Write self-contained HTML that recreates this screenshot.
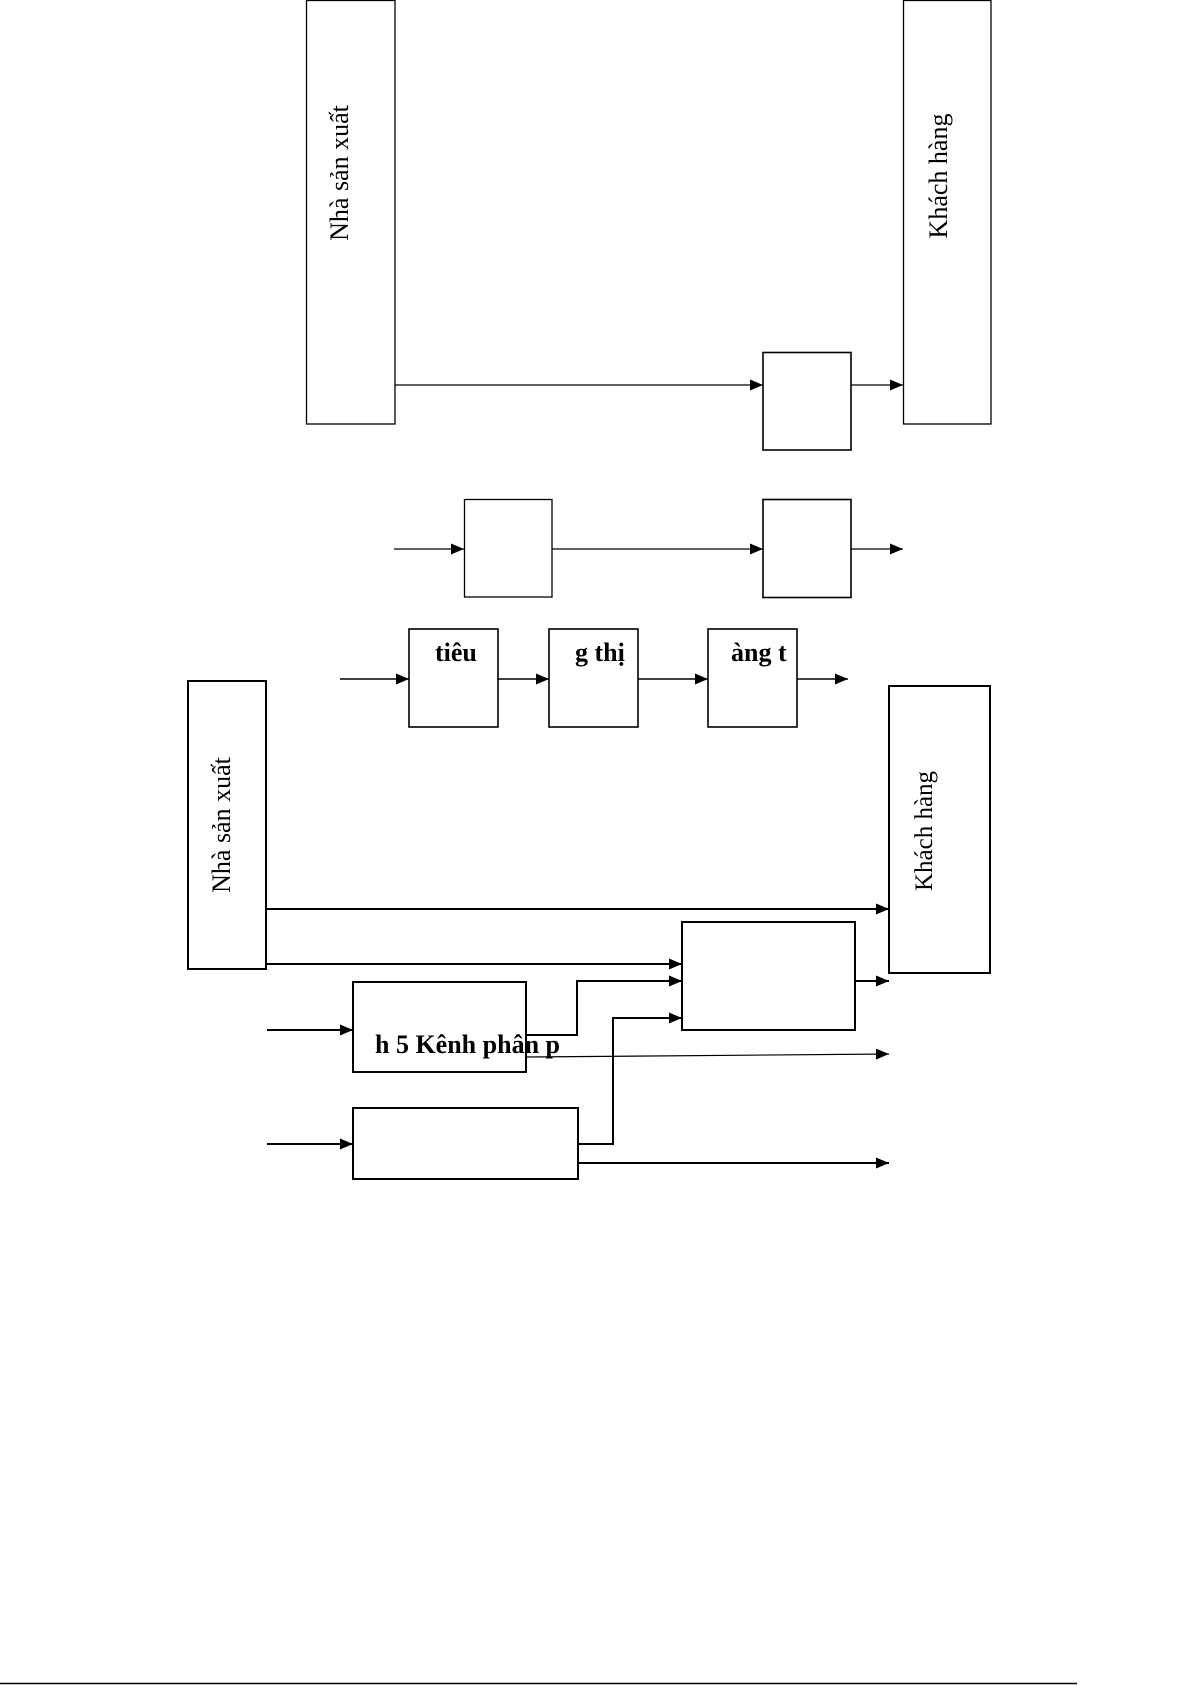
<!DOCTYPE html>
<html>
<head>
<meta charset="utf-8">
<style>
  html, body { margin: 0; padding: 0; background: #fff; }
  body { width: 1192px; height: 1685px; overflow: hidden; }
  svg { display: block; }
  text { font-family: "Liberation Serif", "Times New Roman", serif; fill: #000; }
  .b { font-weight: bold; }
</style>
</head>
<body>
<svg width="1192" height="1685" viewBox="0 0 1192 1685" xmlns="http://www.w3.org/2000/svg">
  <defs>
    <marker id="ah" markerWidth="13" markerHeight="11" refX="13" refY="5.5" orient="auto" markerUnits="userSpaceOnUse">
      <path d="M0,0 L13,5.5 L0,11 Z" fill="#000"/>
    </marker>
  </defs>

  <!-- ===== Upper section ===== -->
  <g fill="none" stroke="#000" stroke-width="1.3">
    <rect x="306.5" y="0.5" width="88.5" height="423.5"/>
    <rect x="903.5" y="0.5" width="87.5" height="423.5"/>
    <rect x="763" y="352.5" width="88" height="97.5" stroke-width="1.6"/>
    <rect x="464.5" y="499.5" width="87.5" height="97.5"/>
    <rect x="763" y="499.5" width="88" height="98" stroke-width="1.6"/>
  </g>
  <g stroke="#000" stroke-width="1.3" fill="none">
    <line x1="395" y1="385" x2="763" y2="385" marker-end="url(#ah)"/>
    <line x1="851" y1="385" x2="903" y2="385" marker-end="url(#ah)"/>
    <line x1="394" y1="549" x2="464" y2="549" marker-end="url(#ah)"/>
    <line x1="552" y1="549" x2="763" y2="549" marker-end="url(#ah)"/>
    <line x1="851" y1="549" x2="903" y2="549" marker-end="url(#ah)"/>
  </g>
  <text transform="translate(348,173) rotate(-90)" text-anchor="middle" font-size="26">Nhà sản xuất</text>
  <text transform="translate(947,176) rotate(-90)" text-anchor="middle" font-size="26">Khách hàng</text>

  <!-- ===== Chain row ===== -->
  <g fill="none" stroke="#000" stroke-width="1.6">
    <rect x="409" y="629" width="89" height="98"/>
    <rect x="549" y="629" width="89" height="98"/>
    <rect x="708" y="629" width="89" height="98"/>
  </g>
  <g stroke="#000" stroke-width="1.6" fill="none">
    <line x1="340" y1="679" x2="409" y2="679" marker-end="url(#ah)"/>
    <line x1="498" y1="679" x2="549" y2="679" marker-end="url(#ah)"/>
    <line x1="638" y1="679" x2="708" y2="679" marker-end="url(#ah)"/>
    <line x1="797" y1="679" x2="848" y2="679" marker-end="url(#ah)"/>
  </g>
  <text class="b" x="435" y="661" font-size="26">tiêu</text>
  <text class="b" x="575" y="661" font-size="26">g thị</text>
  <text class="b" x="731" y="661" font-size="26">àng t</text>

  <!-- ===== Lower section ===== -->
  <g fill="none" stroke="#000" stroke-width="2">
    <rect x="188" y="681" width="78" height="288"/>
    <rect x="889" y="686" width="101" height="287"/>
    <rect x="682" y="922" width="173" height="108"/>
    <rect x="353" y="982" width="173" height="90"/>
    <rect x="353" y="1108" width="225" height="71"/>
  </g>
  <g stroke="#000" stroke-width="2" fill="none">
    <line x1="266" y1="909" x2="889" y2="909" marker-end="url(#ah)"/>
    <line x1="266" y1="964" x2="682" y2="964" marker-end="url(#ah)"/>
    <line x1="855" y1="981" x2="889" y2="981" marker-end="url(#ah)"/>
    <line x1="267" y1="1030" x2="353" y2="1030" marker-end="url(#ah)"/>
    <polyline points="526,1035 577,1035 577,981 682,981" marker-end="url(#ah)"/>
    <line x1="267" y1="1144" x2="353" y2="1144" marker-end="url(#ah)"/>
    <polyline points="578,1144 613,1144 613,1018 682,1018" marker-end="url(#ah)"/>
    <line x1="578" y1="1163" x2="889" y2="1163" marker-end="url(#ah)"/>
  </g>
  <line x1="526" y1="1057" x2="889" y2="1054" stroke="#000" stroke-width="1.2" marker-end="url(#ah)"/>
  <text class="b" x="375" y="1053" font-size="26">h 5 Kênh phân p</text>

  <text transform="translate(230,825) rotate(-90)" text-anchor="middle" font-size="26">Nhà sản xuất</text>
  <text transform="translate(932,831) rotate(-90)" text-anchor="middle" font-size="25">Khách hàng</text>

  <!-- bottom rule -->
  <line x1="0" y1="1683.5" x2="1077" y2="1683.5" stroke="#000" stroke-width="1.5"/>
</svg>
</body>
</html>
